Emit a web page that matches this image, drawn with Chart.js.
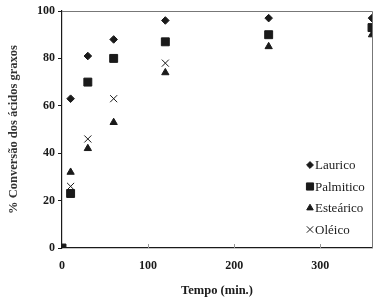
<!DOCTYPE html>
<html>
<head>
<meta charset="utf-8">
<script src="https://cdn.jsdelivr.net/npm/chart.js@4/dist/chart.umd.min.js"></script>
<style>
  html, body { margin: 0; padding: 0; background: #fff; }
  #wrap { width: 380px; height: 302px; }
</style>
</head>
<body>
<div id="wrap"><canvas id="chart"></canvas></div>
<script>
// data
const tempos = [0, 10, 30, 60, 120, 240, 360];
const laurico = [null, 63, 81, 88, 96, 97, 97];
const palmitico = [0, 23, 70, 80, 87, 90, 93];
const estearico = [null, 32, 42, 53, 74, 85, 90];
const oleico = [null, 26, 46, 63, 78, 90, 93];
const xTicks = [0, 100, 200, 300];
const yTicks = [0, 20, 40, 60, 80, 100];

const serif = '"Liberation Serif", "Times New Roman", serif';
const ink = '#1a1a1a';

function pts(vals) {
    return tempos.map((t, i) => ({ x: t, y: vals[i] })).filter(p => p.y !== null);
}

const datasets = [
    { label: 'Laurico', data: pts(laurico), pointStyle: 'rectRot', pointRadius: 3.8 },
    { label: 'Palmitico', data: pts(palmitico), pointStyle: 'rect', pointRadius: 5.6 },
    { label: 'Esteárico', data: pts(estearico), pointStyle: 'triangle', pointRadius: 4.2 },
    { label: 'Oléico', data: pts(oleico), pointStyle: 'crossRot', pointRadius: 5, borderWidth: 1 }
].map(d => ({
    backgroundColor: ink, borderColor: ink, borderWidth: 1, showLine: false, ...d
}));

// frame, inward x ticks and the legend inside the plot
const extras = {
    id: 'extras',
    afterDraw(chart) {
        const { ctx, chartArea: a, scales } = chart;
        ctx.save();
        ctx.strokeStyle = '#777';
        ctx.lineWidth = 1;
        ctx.beginPath();
        ctx.moveTo(a.left, a.top + 0.5); ctx.lineTo(a.right + 0.5, a.top + 0.5);
        ctx.lineTo(a.right + 0.5, a.bottom);
        ctx.stroke();
        ctx.strokeStyle = '#999';
        xTicks.slice(1).forEach(v => {
            const x = Math.round(scales.x.getPixelForValue(v)) + 0.5;
            ctx.beginPath(); ctx.moveTo(x, a.bottom); ctx.lineTo(x, a.bottom - 4); ctx.stroke();
        });
        ctx.font = '13px ' + serif;
        ctx.textBaseline = 'middle';
        chart.data.datasets.forEach((ds, i) => {
            const y = 165 + i * 21.5;
            ctx.fillStyle = ink; ctx.strokeStyle = ink; ctx.lineWidth = 1;
            Chart.helpers.drawPoint(ctx, { pointStyle: ds.pointStyle, radius: ds.pointRadius * 0.9, rotation: 0, borderWidth: 1 }, 310, y);
            ctx.fillText(ds.label, 315, y + 1);
        });
        ctx.restore();
    }
};

new Chart(document.getElementById('chart'), {
    type: 'scatter',
    data: { datasets },
    options: {
        responsive: true,
        maintainAspectRatio: false,
        animation: false,
        layout: { padding: { top: 11, right: 8, left: 0, bottom: 0 } },
        plugins: { legend: { display: false }, tooltip: { enabled: false } },
        scales: {
            x: {
                type: 'linear', min: 0, max: 360,
                afterBuildTicks: s => { s.ticks = xTicks.map(v => ({ value: v })); },
                afterFit: s => { s.height = 54; },
                border: { color: ink, width: 1.2 },
                grid: { display: false },
                ticks: { color: ink, font: { family: serif, size: 12, weight: 'bold' }, padding: 3 },
                title: { display: true, text: 'Tempo (min.)', color: ink, font: { family: serif, size: 12.5, weight: 'bold' }, padding: { top: 8 } }
            },
            y: {
                min: 0, max: 100,
                afterBuildTicks: s => { s.ticks = yTicks.map(v => ({ value: v })); },
                afterFit: s => { s.width = 62; },
                border: { color: ink, width: 1.2 },
                grid: { drawOnChartArea: false, tickLength: 4, color: ink },
                ticks: { color: ink, font: { family: serif, size: 12, weight: 'bold' }, padding: 3 },
                title: { display: true, text: '% Conversão dos ácidos graxos', color: '#333', font: { family: serif, size: 12.5, weight: 'bold' }, padding: { top: 6, bottom: 0 } }
            }
        }
    },
    plugins: [extras]
});
</script>
</body>
</html>
